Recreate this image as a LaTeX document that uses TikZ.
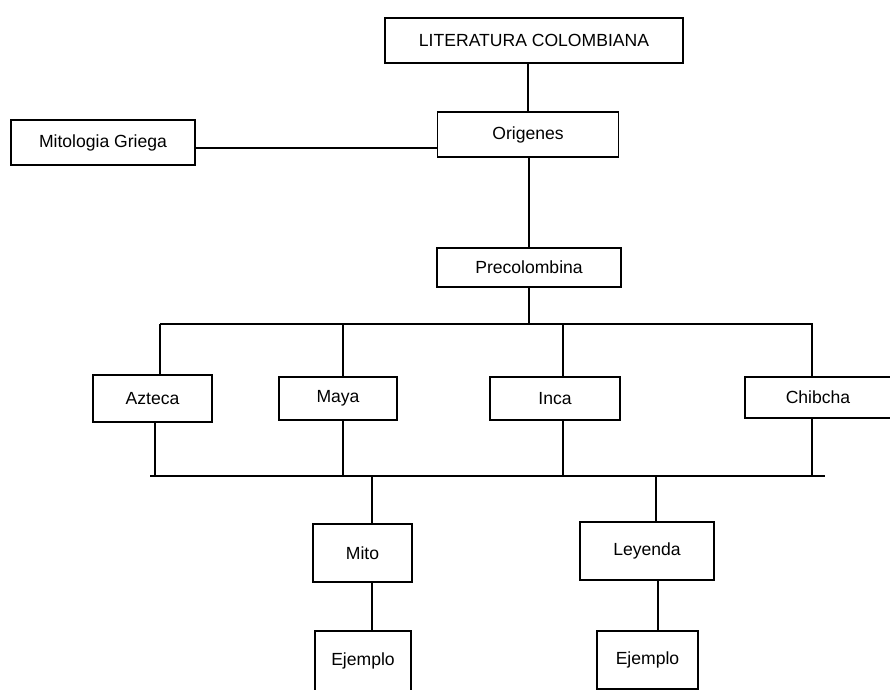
\documentclass[tikz,border=0pt]{standalone}
\usepackage{fontspec}
\setmainfont{Liberation Sans}
\usepackage{tikz}
\usetikzlibrary{calc}
\tikzset{
  catbox/.style={draw, line width=0.8pt, minimum width=2.4cm, minimum height=0.86cm, inner sep=2pt, font=\fontsize{10}{12}\selectfont},
  conn/.style={line width=0.8pt},
  busline/.style={line width=1.1pt},
}

\begin{document}
\begin{tikzpicture}[x=0.02cm, y=-0.02cm]
  \useasboundingbox (0,0) rectangle (890,690);

  \node[catbox, minimum width=5.96cm, minimum height=0.9cm] (lit) at (534,40.5) {LITERATURA COLOMBIANA};
  \node[catbox, minimum width=3.62cm, minimum height=0.9cm] (ori) at (528,134.5) {Origenes};
  \node[catbox, minimum width=3.68cm, minimum height=0.9cm] (mit) at (103,142.5) {Mitologia Griega};
  \node[catbox, minimum width=3.68cm, minimum height=0.78cm] (pre) at (529,267.5) {Precolombina};

  \draw[conn] (ori.north) -- (ori.north |- lit.south);
  \draw[conn] ($(mit.east)+(0,5.5)$) -- ($(mit.east -| ori.west)+(0,5.5)$);
  \draw[conn] (pre.north) -- (pre.north |- ori.south);

  % pueblos
  \node[catbox, minimum width=2.38cm, minimum height=0.94cm] (azt) at (152.5,398.5) {Azteca};
  \node[catbox, minimum width=2.36cm] (may) at (338,398.5) {Maya};
  \node[catbox, minimum width=2.6cm] (inc) at (555,398.5) {Inca};
  \node[catbox, minimum width=2.92cm, minimum height=0.82cm] (chi) at (818,397.5) {Chibcha};

  \coordinate (busTL) at (160,324);
  \coordinate (busTR) at (813,324);
  \coordinate (busBL) at (150,476);
  \coordinate (busBR) at (825,476);
  \draw[conn] (pre.south) -- (pre.south |- busTL);
  \draw[busline] (busTL) -- (busTR);
  \draw[busline] (busBL) -- (busBR);

  \foreach \n/\x/\y in {azt/160/155, may/343/343, inc/563/563, chi/812/812} {
    \coordinate (t\n) at (\x,324);
    \coordinate (b\n) at (\y,476);
    \draw[conn] (t\n) -- (t\n |- \n.north);
    \draw[conn] (\n.south -| b\n) -- (b\n);
  }

  % mito y leyenda
  \node[catbox, minimum width=1.98cm, minimum height=1.16cm] (mito) at (362.5,553) {Mito};
  \node[catbox, minimum width=2.68cm, minimum height=1.16cm] (ley) at (647,551) {Leyenda};
  \node[catbox, minimum width=1.92cm, minimum height=1.2cm] (ej1) at (363,661) {Ejemplo};
  \node[catbox, minimum width=2.02cm, minimum height=1.16cm] (ej2) at (647.5,660) {Ejemplo};

  \coordinate (dMito) at (372,476);
  \coordinate (dLey) at (656,476);
  \draw[conn] (dMito) -- (dMito |- mito.north);
  \draw[conn] (dLey) -- (dLey |- ley.north);
  \draw[conn] ($(mito.south)+(9.5,0)$) -- ($(mito.south |- ej1.north)+(9.5,0)$);
  \draw[conn] ($(ley.south)+(11,0)$) -- ($(ley.south |- ej2.north)+(11,0)$);
\end{tikzpicture}
\end{document}
